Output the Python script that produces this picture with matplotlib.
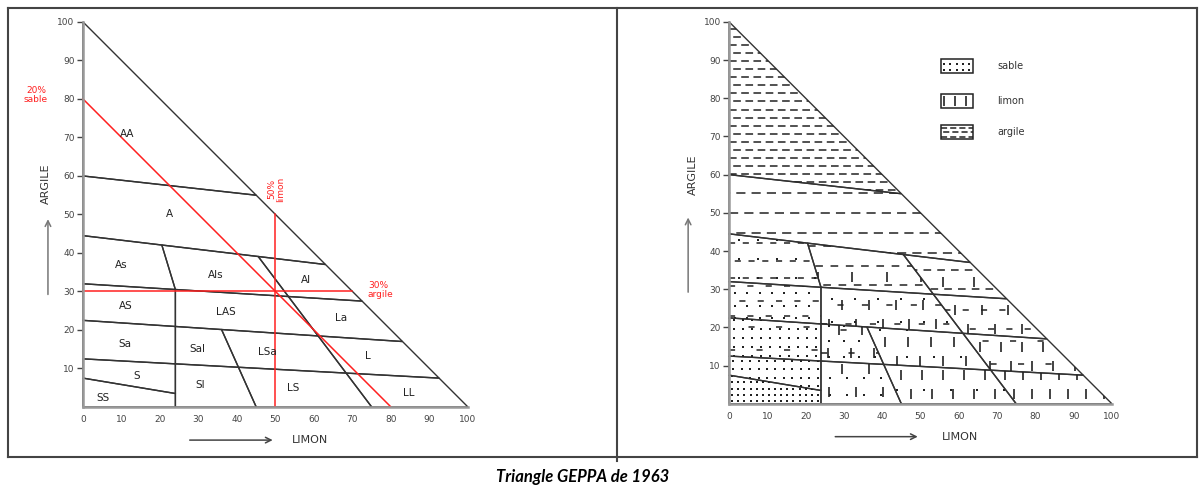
import numpy as np
import matplotlib.pyplot as plt
from matplotlib.patches import Polygon, Rectangle
from matplotlib.lines import Line2D

# Limites des classes du triangle GEPPA (limon %, argile %)
hyp = [(0, 100), (100, 0)]
y_axe = [(0, 0), (0, 100)]
x_axe = [(0, 0), (100, 0)]
l_aa = [(0, 60), (45, 55)]
l_a = [(0, 44.5), (63, 37)]
l_as = [(0, 32), (72.5, 27.5)]
l_sa = [(0, 22.5), (83, 17)]
l_s = [(0, 12.5), (92.5, 7.5)]
l_ss = [(0, 7.5), (24, 3.5)]
v_sable = [(20.5, 42), (24, 30.5)]
v_24 = [(24, 0), (24, 30)]
v_lsa = [(36, 20.1), (45, 0)]
v_l = [(45.5, 39.1), (75, 0)]

# chaque classe = suite de sommets (intersection de deux limites)
classes = {
    'AA': [(y_axe, hyp), (hyp, l_aa), (l_aa, y_axe)],
    'A': [(y_axe, l_aa), (l_aa, hyp), (hyp, l_a), (l_a, y_axe)],
    'As': [(y_axe, l_a), (l_a, v_sable), (v_sable, l_as), (l_as, y_axe)],
    'Als': [(v_sable, l_a), (l_a, v_l), (v_l, l_as), (l_as, v_sable)],
    'Al': [(v_l, l_a), (l_a, hyp), (hyp, l_as), (l_as, v_l)],
    'AS': [(y_axe, l_as), (l_as, v_24), (v_24, l_sa), (l_sa, y_axe)],
    'LAS': [(v_24, l_as), (l_as, v_l), (v_l, l_sa), (l_sa, v_24)],
    'La': [(v_l, l_as), (l_as, hyp), (hyp, l_sa), (l_sa, v_l)],
    'Sa': [(y_axe, l_sa), (l_sa, v_24), (v_24, l_s), (l_s, y_axe)],
    'Sal': [(v_24, l_sa), (l_sa, v_lsa), (v_lsa, l_s), (l_s, v_24)],
    'LSa': [(v_lsa, l_sa), (l_sa, v_l), (v_l, l_s), (l_s, v_lsa)],
    'L': [(v_l, l_sa), (l_sa, hyp), (hyp, l_s), (l_s, v_l)],
    'S': [(y_axe, l_s), (l_s, v_24), (v_24, l_ss), (l_ss, y_axe)],
    'SS': [(y_axe, l_ss), (l_ss, v_24), (v_24, x_axe), (x_axe, y_axe)],
    'Sl': [(v_24, l_s), (l_s, v_lsa), (v_lsa, x_axe), (x_axe, v_24)],
    'LS': [(v_lsa, l_s), (l_s, v_l), (v_l, x_axe), (x_axe, v_lsa)],
    'LL': [(v_l, l_s), (l_s, hyp), (hyp, x_axe), (x_axe, v_l)],
}

# position des étiquettes
etiquettes = {
    'AA': (11.5, 71), 'A': (22.5, 50), 'As': (10, 37), 'Als': (34.5, 34.3),
    'Al': (58, 33), 'AS': (11, 26.2), 'LAS': (37, 24.7), 'La': (67, 23),
    'Sa': (11, 16.4), 'Sal': (29.6, 15.1), 'LSa': (48, 14.3), 'L': (74, 13.2),
    'S': (14, 8), 'Sl': (30.4, 5.7), 'LS': (54.5, 4.9), 'LL': (84.5, 3.6),
    'SS': (5.2, 2.3),
}

# exemple en rouge : 20% sable, 50% limon, 30% argile
sable20_x, sable20_y = [0, 80], [80, 0]
limon50_x, limon50_y = [50, 50], [0, 50]
argile30_x, argile30_y = [0, 70], [30, 30]

ticks = list(range(0, 101, 10))

# trames (argile: tirets, sable: points, limon: traits verticaux)
trames = {
    'AA': dict(argile=(2.1, 5, 3)),
    'A': dict(argile=(5.2, 6, 4)),
    'As': dict(argile=(4.6, 4, 5), sable=5),
    'Als': dict(argile=(5, 5, 5), limon=(9, 9)),
    'Al': dict(argile=(5, 5, 4), limon=(8, 9)),
    'AS': dict(argile=(4, 4, 8), sable=3.2),
    'LAS': dict(argile=(5, 4, 12), limon=(7, 5), sable=6),
    'La': dict(argile=(5, 4, 8), limon=(7, 5)),
    'Sa': dict(argile=(6, 4, 14), sable=2.4),
    'Sal': dict(argile=(6, 4, 14), sable=4, limon=(6, 6)),
    'LSa': dict(limon=(6, 5), sable=7),
    'L': dict(limon=(5.5, 5), argile=(6, 4, 14)),
    'S': dict(sable=2.2),
    'SS': dict(sable=1.6),
    'Sl': dict(sable=4.5, limon=(7, 6)),
    'LS': dict(limon=(5.5, 5), sable=7),
    'LL': dict(limon=(4.7, 5)),
}

legende_noms = ['sable', 'limon', 'argile']
legende_y = [88.4, 79.3, 71.1]
legende_trames = [dict(sable=1.6), dict(limon=(2.8, 3.8)), dict(argile=(1.25, 4, 2))]

GRIS = '#333333'


def inter(a, b):
    (x1, y1), (x2, y2) = a
    (x3, y3), (x4, y4) = b
    d = (x1 - x2) * (y3 - y4) - (y1 - y2) * (x3 - x4)
    t = ((x1 - x3) * (y3 - y4) - (y1 - y3) * (x3 - x4)) / d
    return (x1 + t * (x2 - x1), y1 + t * (y2 - y1))


polys = {nom: [inter(a, b) for a, b in paires] for nom, paires in classes.items()}


def texture(ax, poly, argile=None, sable=None, limon=None):
    patch = Polygon(poly, closed=True, fc='none', ec='none')
    ax.add_patch(patch)
    xs, ys = zip(*poly)
    x0, x1, y0, y1 = min(xs), max(xs), min(ys), max(ys)
    if argile:
        pas, on, off = argile
        for i, y in enumerate(np.arange(y0 + pas * 0.5, y1, pas)):
            ln, = ax.plot([x0 - (i % 2) * 2, x1], [y, y], color='#222', lw=1.1,
                          dashes=(on, off))
            ln.set_clip_path(patch)
    if sable:
        gx, gy = np.meshgrid(np.arange(x0 + sable / 2, x1, sable),
                             np.arange(y0 + sable / 2, y1, sable))
        sc = ax.scatter(gx.ravel(), gy.ravel(), s=1.2, c='#222', marker='s', lw=0)
        sc.set_clip_path(patch)
    if limon:
        dx, dy = limon
        px, py = [], []
        for j, y in enumerate(np.arange(y0 + dy * 0.5, y1, dy)):
            for x in np.arange(x0 + dx * (0.3 + 0.5 * (j % 2)), x1, dx):
                px.append(x)
                py.append(y)
        sc = ax.scatter(px, py, s=45, c='#222', marker='|', lw=1.2)
        sc.set_clip_path(patch)


def cadre(ax, fleche_x, argile_pos, limon_pos):
    for s in ['top', 'right']:
        ax.spines[s].set_visible(False)
    for s in ['left', 'bottom']:
        ax.spines[s].set_position(('data', 0))
        ax.spines[s].set_bounds(0, 100)
        ax.spines[s].set_color('#999999')
        ax.spines[s].set_linewidth(1.8)
    ax.set_yticks(ticks[1:])
    ax.set_xticks(ticks)
    ax.tick_params(axis='y', length=4, width=1, color='#444', pad=2,
                   labelsize=6.5, labelcolor='#444')
    ax.tick_params(axis='x', length=0, pad=6, labelsize=6.5, labelcolor='#444')
    for nom, poly in polys.items():
        ax.add_patch(Polygon(poly, closed=True, fc='none', ec=GRIS, lw=1.0))
    ax.text(argile_pos[0], argile_pos[1], 'ARGILE', rotation=90, ha='center',
            va='center', fontsize=8, color='#333')
    ax.annotate('', xy=(fleche_x, 49.5), xytext=(fleche_x, 28.5),
                arrowprops=dict(arrowstyle='->', color='#777', lw=1.1))
    ax.annotate('', xy=(50, -8.6), xytext=(27, -8.6),
                arrowprops=dict(arrowstyle='->', color='#444', lw=1.1))
    ax.text(limon_pos[0], limon_pos[1], 'LIMON', ha='center', va='center',
            fontsize=8, color='#333')


fig = plt.figure(figsize=(12.03, 4.87), dpi=100)

# triangle de gauche
ax1 = fig.add_axes([10 / 1203, 1 - 455 / 487, 605 / 1203, 445 / 487])
ax1.set_xlim(-18.96, 138.2)
ax1.set_ylim(-12.47, 103.1)
ax1.patch.set_alpha(0)
cadre(ax1, -9.1, (-9.6, 57.9), (59, -8.6))
for nom, (x, y) in etiquettes.items():
    ax1.text(x, y, nom, ha='center', va='center', fontsize=7.5, color='#222')
rouge = '#ff2020'
ax1.plot(sable20_x, sable20_y, color=rouge, lw=1.1)
ax1.plot(limon50_x, limon50_y, color=rouge, lw=1.1)
ax1.plot(argile30_x, argile30_y, color=rouge, lw=1.1)
ax1.text(-12.2, 81, '20%\nsable', ha='center', va='center', fontsize=6.5,
         color=rouge, linespacing=1.0)
ax1.text(50.3, 56.5, '50%\nlimon', ha='center', va='center', fontsize=6.5,
         color=rouge, rotation=90, linespacing=1.0)
ax1.text(74, 30.5, '30%\nargile', ha='left', va='center', fontsize=6.5,
         color=rouge, linespacing=1.0)

# triangle de droite avec les trames
ax2 = fig.add_axes([620 / 1203, 1 - 455 / 487, 575 / 1203, 445 / 487])
ax2.set_xlim(-28.5, 121.7)
ax2.set_ylim(-13.4, 103.1)
ax2.patch.set_alpha(0)
cadre(ax2, -10.7, (-9.4, 60), (60.3, -8.6))
for nom, poly in polys.items():
    texture(ax2, poly, **trames[nom])
for nom, y, tr in zip(legende_noms, legende_y, legende_trames):
    rect = [(55.4, y - 1.9), (63.7, y - 1.9), (63.7, y + 1.9), (55.4, y + 1.9)]
    texture(ax2, rect, **tr)
    ax2.add_patch(Rectangle((55.4, y - 1.9), 8.3, 3.8, fc='none', ec='#222', lw=1.1))
    ax2.text(70, y, nom, ha='left', va='center', fontsize=7, color='#333')

# cadre du tableau
bord = dict(color='#444444', lw=1.5, transform=fig.transFigure)
W, H = 1203, 487
fig.add_artist(Line2D([8 / W, 1197 / W], [1 - 8 / H, 1 - 8 / H], **bord))
fig.add_artist(Line2D([8 / W, 1197 / W], [1 - 457 / H, 1 - 457 / H], **bord))
fig.add_artist(Line2D([8 / W, 8 / W], [1 - 8 / H, 1 - 457 / H], **bord))
fig.add_artist(Line2D([1197 / W, 1197 / W], [1 - 8 / H, 1 - 457 / H], **bord))
fig.add_artist(Line2D([617 / W, 617 / W], [1 - 8 / H, 1 - 461 / H], **bord))

fig.text(583 / W, 1 - 477 / H, 'Triangle GEPPA de 1963', ha='center', va='center',
         fontsize=12, fontweight='bold', fontstyle='italic', family='Lato')

fig.savefig('out.png', dpi=100)
